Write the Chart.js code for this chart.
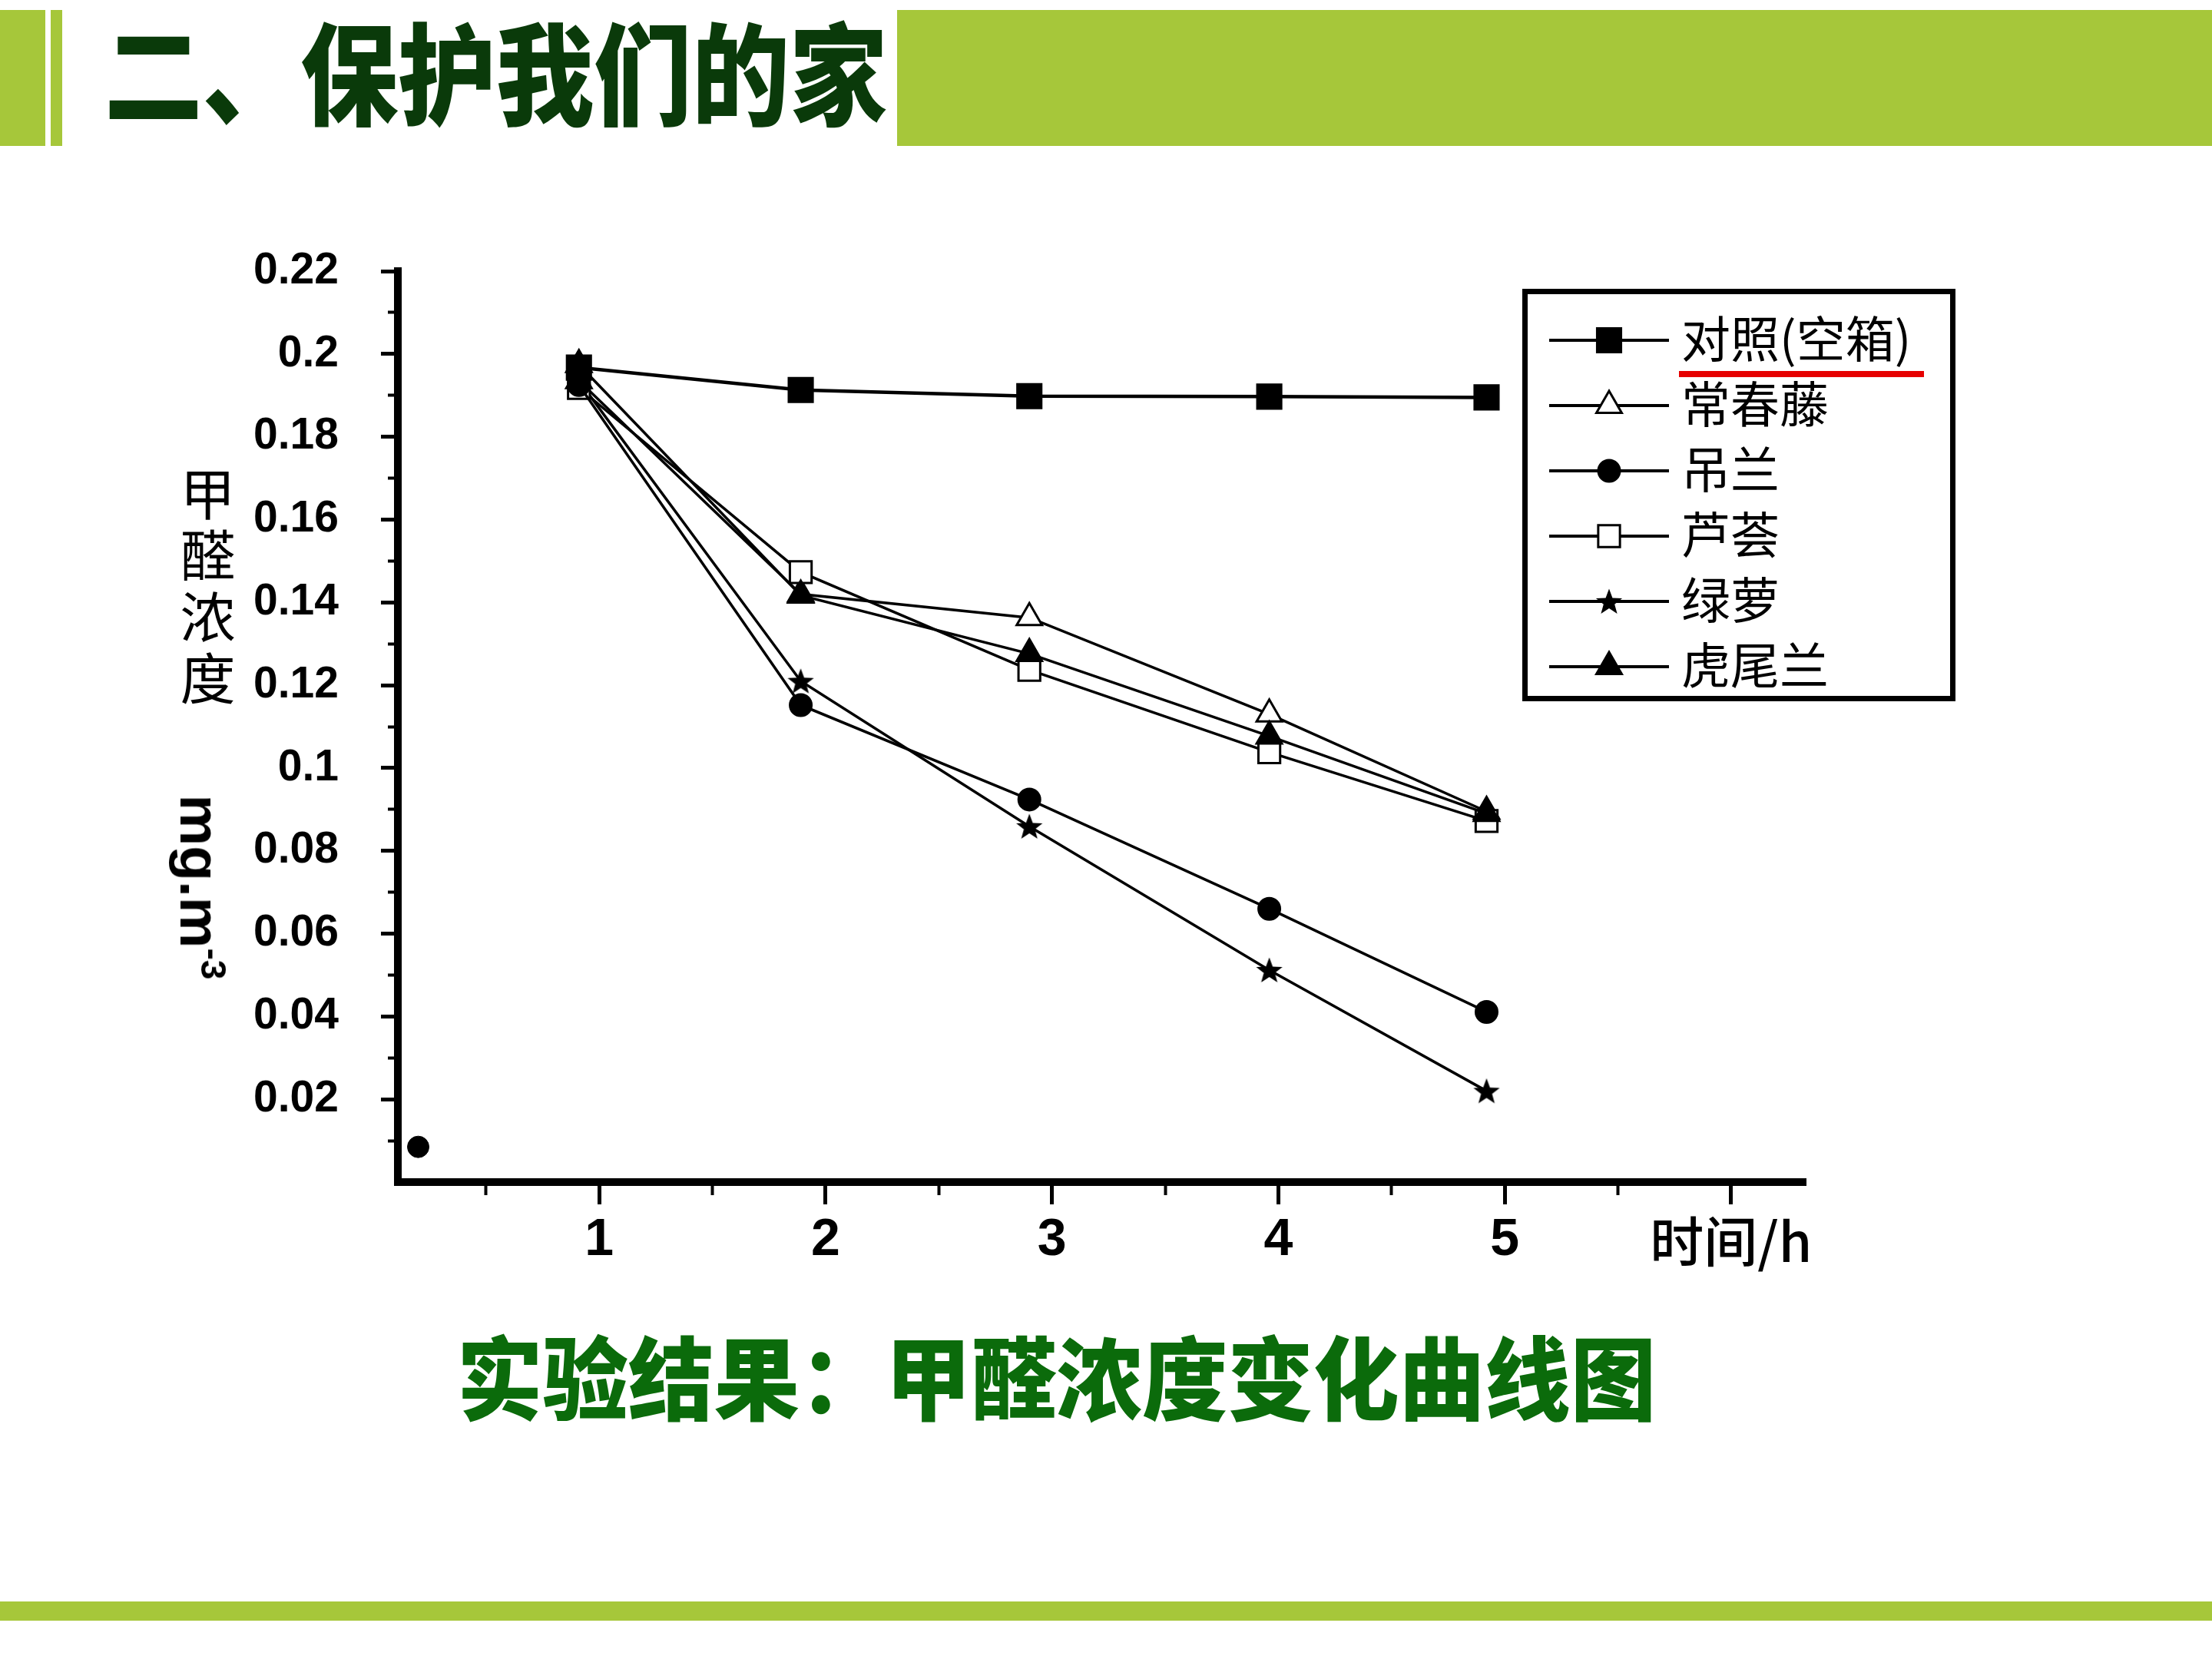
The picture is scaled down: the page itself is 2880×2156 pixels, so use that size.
<!DOCTYPE html>
<html lang="zh-CN">
<head>
<meta charset="utf-8">
<title>甲醛浓度变化曲线图</title>
<script src="https://cdn.jsdelivr.net/npm/chart.js@4.4.1/dist/chart.umd.min.js"></script>
<style>
  html, body { margin: 0; padding: 0; background: #fff; }
  #page { position: relative; width: 2880px; height: 2156px; overflow: hidden; background: #fff; }
  #chart { position: absolute; left: 0; top: 0; }
  .bar { position: absolute; background: #a6c73a; }
  #title {
    position: absolute; left: 136px; top: 17px; white-space: nowrap;
    font: 900 144px/1 'Noto Sans CJK SC', sans-serif; color: #0a3a0a;
    transform: scaleX(0.885); transform-origin: left top;
  }
  #caption {
    position: absolute; left: 595px; top: 1730px; white-space: nowrap;
    font: 900 118px/1 'Noto Sans CJK SC', sans-serif; color: #0b6b0b;
    transform: scaleX(0.945); transform-origin: left top;
  }
  #ytitle {
    position: absolute; left: 230px; top: 607px; writing-mode: vertical-rl;
    font: 400 72px/80px 'Noto Sans CJK SC', sans-serif; letter-spacing: 8px; color: #000;
  }
  #unit {
    position: absolute; left: 262px; top: 1155px; white-space: nowrap;
    font: bold 75px/1 'Liberation Sans', Arial, sans-serif; color: #000;
    transform: translate(-50%, -50%) rotate(90deg);
  }
  #unit sup { font-size: 46px; vertical-align: 27px; line-height: 1; }
  #legend {
    position: absolute; left: 1982px; top: 376px; width: 564px; height: 537px;
    box-sizing: border-box; border: 7px solid #000; background: #fff;
    padding: 17px 0 0 28px;
  }
  .legend-row { display: flex; align-items: center; height: 85px; }
  .legend-row canvas { display: block; margin-right: 16px; }
  .legend-row span {
    position: relative; top: -6px;
    font: 400 64px/1 'Noto Sans CJK SC', sans-serif; color: #000; white-space: nowrap;
  }
  #mark { position: absolute; left: 197px; top: 100px; width: 319px; height: 8px; background: #e60000; }
</style>
</head>
<body>
<div id="page">
  <canvas id="chart" width="2880" height="2156"></canvas>
  <div class="bar" style="left:0;top:13px;width:59px;height:177px"></div>
  <div class="bar" style="left:66px;top:13px;width:15px;height:177px"></div>
  <div class="bar" style="left:1168px;top:13px;width:1712px;height:177px"></div>
  <div class="bar" style="left:0;top:2085px;width:2880px;height:25px"></div>
  <div id="title">二、保护我们的家</div>
  <div id="ytitle">甲醛浓度</div>
  <div id="unit">mg.m<sup>-3</sup></div>
  <div id="legend"><div id="mark"></div></div>
  <div id="caption">实验结果：甲醛浓度变化曲线图</div>
</div>
<script>
// --- data ---
const hours = [0.91, 1.89, 2.9, 3.96, 4.92];
const seriesNames = ['对照(空箱)', '常春藤', '吊兰', '芦荟', '绿萝', '虎尾兰'];
const controlBox = [0.1967, 0.1913, 0.1898, 0.1897, 0.1895];
const ivy = [0.1935, 0.1420, 0.1363, 0.1130, 0.0895];
const spiderPlant = [0.1925, 0.1152, 0.0924, 0.0660, 0.0411];
const aloe = [0.1918, 0.1473, 0.1237, 0.1038, 0.0872];
const pothos = [0.1935, 0.1210, 0.0859, 0.0512, 0.0220];
const snakePlant = [0.1974, 0.1417, 0.1276, 0.1077, 0.0890];
// lone dot near the origin
const strayHour = [0.2];
const strayValue = [0.0085];

const xTicks = [1, 2, 3, 4, 5, 6];
const xTickLabels = ['1', '2', '3', '4', '5', '时间/h'];
const xMinorTicks = [0.5, 1, 1.5, 2, 2.5, 3, 3.5, 4, 4.5, 5, 5.5, 6];
const yTicks = [0.02, 0.04, 0.06, 0.08, 0.1, 0.12, 0.14, 0.16, 0.18, 0.2, 0.22];
const yTickLabels = ['0.02', '0.04', '0.06', '0.08', '0.1', '0.12', '0.14', '0.16', '0.18', '0.2', '0.22'];
const yMinorTicks = [0.01, 0.02, 0.03, 0.04, 0.05, 0.06, 0.07, 0.08, 0.09, 0.1, 0.11,
                     0.12, 0.13, 0.14, 0.15, 0.16, 0.17, 0.18, 0.19, 0.2, 0.21, 0.22];

// filled five point star for 绿萝
function makeStar(size) {
    const c = document.createElement('canvas');
    c.width = c.height = size;
    const g = c.getContext('2d');
    const r = size / 2, ri = r * 0.42;
    g.beginPath();
    for (let k = 0; k < 10; k++) {
        const a = -Math.PI / 2 + k * Math.PI / 5;
        const rr = k % 2 ? ri : r;
        g.lineTo(r + rr * Math.cos(a), r + 1.5 + rr * Math.sin(a));
    }
    g.closePath();
    g.fillStyle = '#000';
    g.fill();
    return c;
}

const pts = values => hours.map((h, i) => ({ x: h, y: values[i] }));

function series(label, values, style, fill, radius, width, order) {
    return {
        label: label,
        data: pts(values),
        borderColor: '#000',
        borderWidth: width || 3.5,
        pointStyle: style,
        pointRadius: radius,
        pointBackgroundColor: fill,
        pointBorderColor: '#000',
        pointBorderWidth: 3,
        tension: 0,
        order: order === undefined ? 1 : order,
        xAxisID: 'x',
        yAxisID: 'y'
    };
}

const datasets = [
    series(seriesNames[0], controlBox, 'rect', '#000', 22, 4.5),
    series(seriesNames[1], ivy, 'triangle', '#fff', 19, 3.5, 2),
    series(seriesNames[2], spiderPlant, 'circle', '#000', 14),
    series(seriesNames[3], aloe, 'rect', '#fff', 20),
    series(seriesNames[4], pothos, makeStar(36), '#000', 18),
    series(seriesNames[5], snakePlant, 'triangle', '#000', 19, 3.5, 0),
    {
        label: '',
        data: strayHour.map((h, i) => ({ x: h, y: strayValue[i] })),
        showLine: false,
        pointStyle: 'circle',
        pointRadius: 14,
        pointBackgroundColor: '#000',
        pointBorderColor: '#000',
        xAxisID: 'x',
        yAxisID: 'y'
    }
];

const X_MIN = 0.11, X_MAX = 6.33;
const Y_MIN = 0, Y_MAX = 0.22;

const digitFont = { family: "'Liberation Sans Narrow', 'Liberation Sans', sans-serif", weight: 'bold', size: 68 };
const cjkFont = { family: "'Noto Sans CJK SC', sans-serif", weight: '500', size: 70 };

const chart = new Chart(document.getElementById('chart'), {
    type: 'line',
    data: { datasets: datasets },
    options: {
        responsive: false,
        animation: false,
        layout: { padding: { left: 300, top: 353, right: 529, bottom: 497 } },
        plugins: { legend: { display: false }, tooltip: { enabled: false } },
        scales: {
            x: {
                type: 'linear', axis: 'x', position: 'bottom', min: X_MIN, max: X_MAX, weight: 1,
                afterFit: s => { s.height = 120; },
                afterBuildTicks: s => { s.ticks = xTicks.map(v => ({ value: v })); },
                grid: { drawOnChartArea: false, drawTicks: true, tickLength: 29, tickWidth: 5, tickColor: '#000' },
                border: { display: true, width: 10, color: '#000' },
                ticks: {
                    padding: 6, color: '#000', autoSkip: false, maxRotation: 0,
                    callback: (v, i) => xTickLabels[i],
                    font: ctx => (ctx.index === xTicks.length - 1 ? cjkFont : digitFont)
                }
            },
            xMinor: {
                type: 'linear', axis: 'x', position: 'bottom', min: X_MIN, max: X_MAX, weight: 0,
                afterFit: s => { s.height = 0; },
                afterBuildTicks: s => { s.ticks = xMinorTicks.map(v => ({ value: v })); },
                grid: { drawOnChartArea: false, drawTicks: true, tickLength: 17, tickWidth: 4, tickColor: '#000' },
                border: { display: false },
                ticks: { display: false }
            },
            y: {
                type: 'linear', axis: 'y', position: 'left', min: Y_MIN, max: Y_MAX, weight: 1,
                afterFit: s => { s.width = 218; },
                afterBuildTicks: s => { s.ticks = yTicks.map(v => ({ value: v })); },
                grid: { drawOnChartArea: false, drawTicks: true, tickLength: 22, tickWidth: 5, tickColor: '#000' },
                border: { display: true, width: 10, color: '#000' },
                ticks: {
                    padding: 55, color: '#000', autoSkip: false,
                    callback: (v, i) => yTickLabels[i],
                    font: { family: "'Liberation Sans', Arial, sans-serif", weight: 'bold', size: 57 }
                }
            },
            yMinor: {
                type: 'linear', axis: 'y', position: 'left', min: Y_MIN, max: Y_MAX, weight: 0,
                afterFit: s => { s.width = 0; },
                afterBuildTicks: s => { s.ticks = yMinorTicks.map(v => ({ value: v })); },
                grid: { drawOnChartArea: false, drawTicks: true, tickLength: 13, tickWidth: 4, tickColor: '#000' },
                border: { display: false },
                ticks: { display: false }
            }
        }
    }
});

// --- HTML legend built from the chart's datasets ---
function buildLegend(chart) {
    const box = document.getElementById('legend');
    chart.data.datasets.forEach(ds => {
        if (!ds.label) return;
        const row = document.createElement('div');
        row.className = 'legend-row';
        const c = document.createElement('canvas');
        c.width = 156; c.height = 50;
        const g = c.getContext('2d');
        g.strokeStyle = '#000';
        g.lineWidth = 4;
        g.beginPath(); g.moveTo(0, 25); g.lineTo(156, 25); g.stroke();
        g.fillStyle = ds.pointBackgroundColor;
        g.strokeStyle = ds.pointBorderColor;
        g.lineWidth = ds.pointBorderWidth;
        Chart.helpers.drawPoint(g, {
            pointStyle: ds.pointStyle, rotation: 0,
            radius: ds.pointRadius, borderWidth: ds.pointBorderWidth
        }, 78, 25);
        const span = document.createElement('span');
        span.textContent = ds.label;
        row.append(c, span);
        box.appendChild(row);
    });
}
buildLegend(chart);
</script>
</body>
</html>
